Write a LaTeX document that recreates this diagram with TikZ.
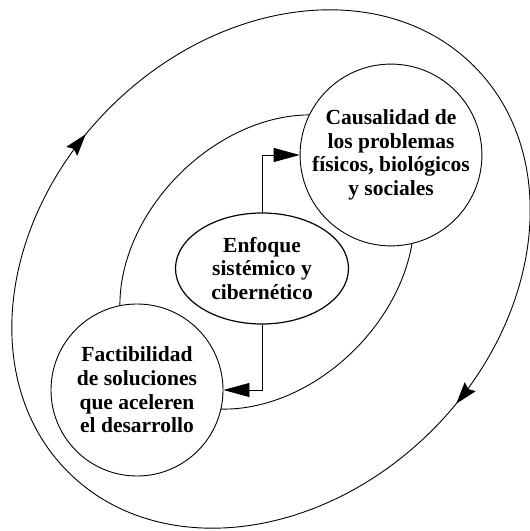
\documentclass[tikz,border=0pt]{standalone}
\usepackage{fontspec}
\setmainfont{Liberation Serif}
\usetikzlibrary{arrows.meta,decorations.markings,shapes.geometric}
\begin{document}
\begin{tikzpicture}[x=1pt,y=1pt,
  txt/.style={align=center,font=\fontsize{21.5}{23.6}\selectfont\bfseries},
  bigcirc/.style={circle,draw,line width=0.9pt,fill=white,inner sep=0pt,minimum size=172pt,txt},
  centell/.style={ellipse,draw,line width=1.2pt,fill=white,inner sep=0pt,minimum width=173pt,minimum height=111pt,txt},
  conn/.style={line width=0.9pt,-{Triangle[length=26pt,width=14pt]}},
  orbit/.style={line width=0.9pt}
]
\useasboundingbox (0,0) rectangle (530,531);
% outer ellipse with arrowheads
\draw[orbit,rotate around={45:(271,262)},
  postaction={decorate,decoration={markings,
    mark=at position 0.272 with {\arrowreversed{Stealth[length=22pt,width=14pt,inset=3pt]}},
    mark=at position 0.772 with {\arrowreversed{Stealth[length=22pt,width=14pt,inset=3pt]}}}}]
  (271,262) ellipse [x radius=287pt, y radius=228pt];
% middle ellipse
\draw[orbit,rotate around={45:(267,269)}] (267,269) ellipse [x radius=167pt, y radius=124pt];
% nodes
\node[bigcirc] (caus) at (391,376) {Causalidad de\\los problemas\\físicos, biológicos\\y sociales};
\node[bigcirc] (fact) at (137,141) {Factibilidad\\de soluciones\\que aceleren\\el desarrollo};
\node[centell] (enf) at (262,262.5) {Enfoque\\sistémico y\\cibernético};
% connectors
\draw[conn] (enf.north) |- (caus.west);
\draw[conn] (enf.south) |- (fact.east);
\end{tikzpicture}
\end{document}
